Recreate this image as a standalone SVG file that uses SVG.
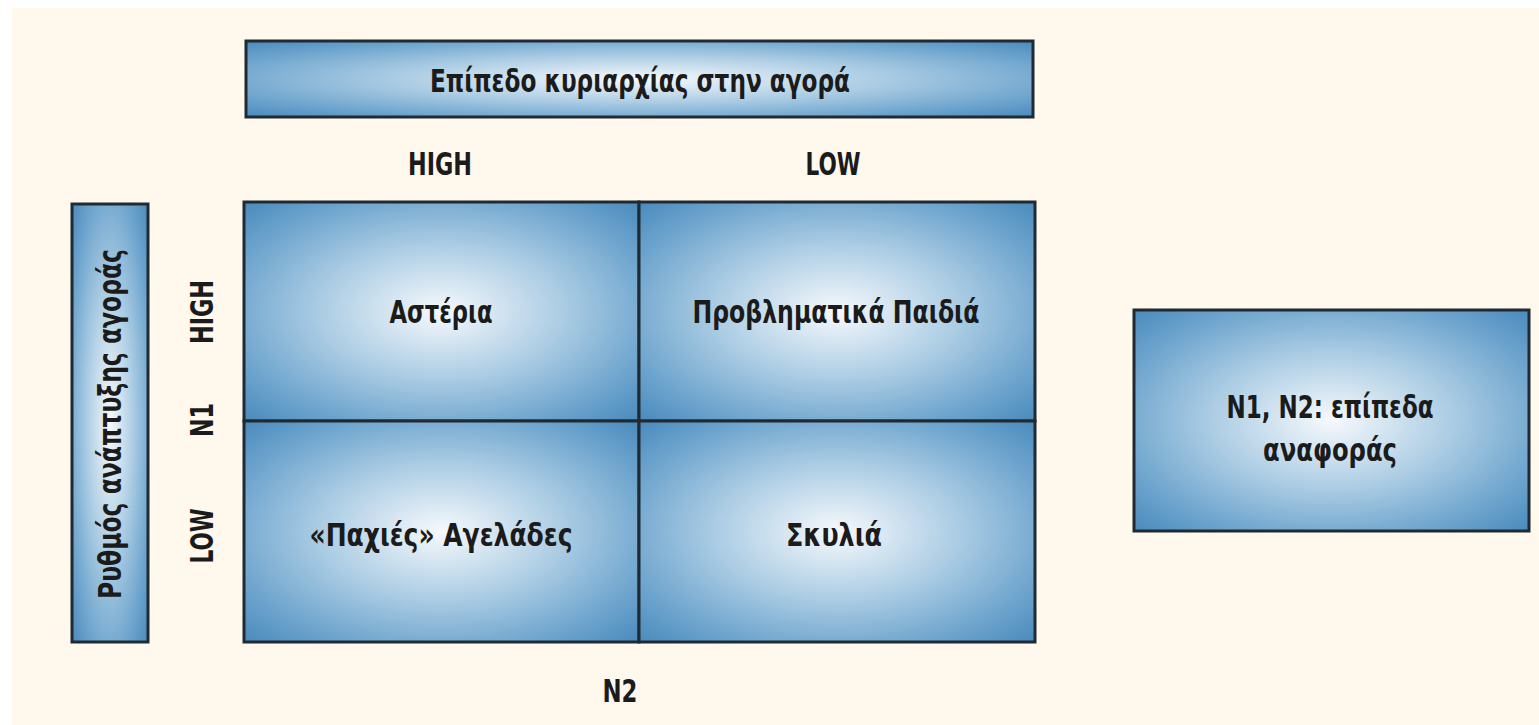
<svg xmlns="http://www.w3.org/2000/svg" width="1539" height="725" viewBox="0 0 1539 725">
<defs>
<radialGradient id="g" cx="0.5" cy="0.5" r="0.7">
<stop offset="0" stop-color="#f6f9fc"/>
<stop offset="0.45" stop-color="#a9cbe3"/>
<stop offset="0.8" stop-color="#6aa2cc"/>
<stop offset="1" stop-color="#4b8bbd"/>
</radialGradient>
<style>
.box{fill:url(#g);stroke:#1f2a33;stroke-width:3}
.t{font-family:"DejaVu Sans Condensed","Liberation Sans",sans-serif;font-weight:bold;fill:#1b1b1b;text-anchor:middle;font-size:32px}
</style>
</defs>
<rect x="0" y="0" width="1539" height="725" fill="#ffffff"/>
<rect x="12" y="8" width="1527" height="717" fill="#fef8ed"/>

<g id="top-header">
<rect class="box" x="246" y="41" width="787" height="76"/>
<text class="t" x="640" y="92" textLength="420" lengthAdjust="spacingAndGlyphs">Επίπεδο κυριαρχίας στην αγορά</text>
</g>

<g id="col-labels">
<text class="t" x="440" y="175" textLength="64" lengthAdjust="spacingAndGlyphs">HIGH</text>
<text class="t" x="833" y="175" textLength="55" lengthAdjust="spacingAndGlyphs">LOW</text>
</g>

<g id="left-header">
<rect class="box" x="72" y="204" width="76" height="438"/>
<text class="t" transform="translate(121,424) rotate(-90)" textLength="350" lengthAdjust="spacingAndGlyphs">Ρυθμός ανάπτυξης αγοράς</text>
</g>

<g id="row-labels">
<text class="t" transform="translate(213,312) rotate(-90)" textLength="64" lengthAdjust="spacingAndGlyphs">HIGH</text>
<text class="t" transform="translate(213,420) rotate(-90)" textLength="34" lengthAdjust="spacingAndGlyphs">N1</text>
<text class="t" transform="translate(213,536) rotate(-90)" textLength="55" lengthAdjust="spacingAndGlyphs">LOW</text>
</g>

<g id="cell-stars">
<rect class="box" x="244" y="202" width="395" height="219"/>
<text class="t" x="441" y="323" textLength="103" lengthAdjust="spacingAndGlyphs">Αστέρια</text>
</g>
<g id="cell-question">
<rect class="box" x="639" y="202" width="396" height="219"/>
<text class="t" x="836" y="323" textLength="287" lengthAdjust="spacingAndGlyphs">Προβληματικά Παιδιά</text>
</g>
<g id="cell-cows">
<rect class="box" x="244" y="421" width="395" height="221"/>
<text class="t" x="441" y="546" textLength="263" lengthAdjust="spacingAndGlyphs">«Παχιές» Αγελάδες</text>
</g>
<g id="cell-dogs">
<rect class="box" x="639" y="421" width="396" height="221"/>
<text class="t" x="834" y="546" textLength="96" lengthAdjust="spacingAndGlyphs">Σκυλιά</text>
</g>

<g id="n2-label">
<text class="t" x="620" y="702" textLength="35" lengthAdjust="spacingAndGlyphs">N2</text>
</g>

<g id="legend">
<rect class="box" x="1134" y="310" width="395" height="221"/>
<text class="t" x="1330" y="418" textLength="207" lengthAdjust="spacingAndGlyphs">N1, N2: επίπεδα</text>
<text class="t" x="1330" y="461" textLength="134" lengthAdjust="spacingAndGlyphs">αναφοράς</text>
</g>

<g id="connectors"/>
</svg>
